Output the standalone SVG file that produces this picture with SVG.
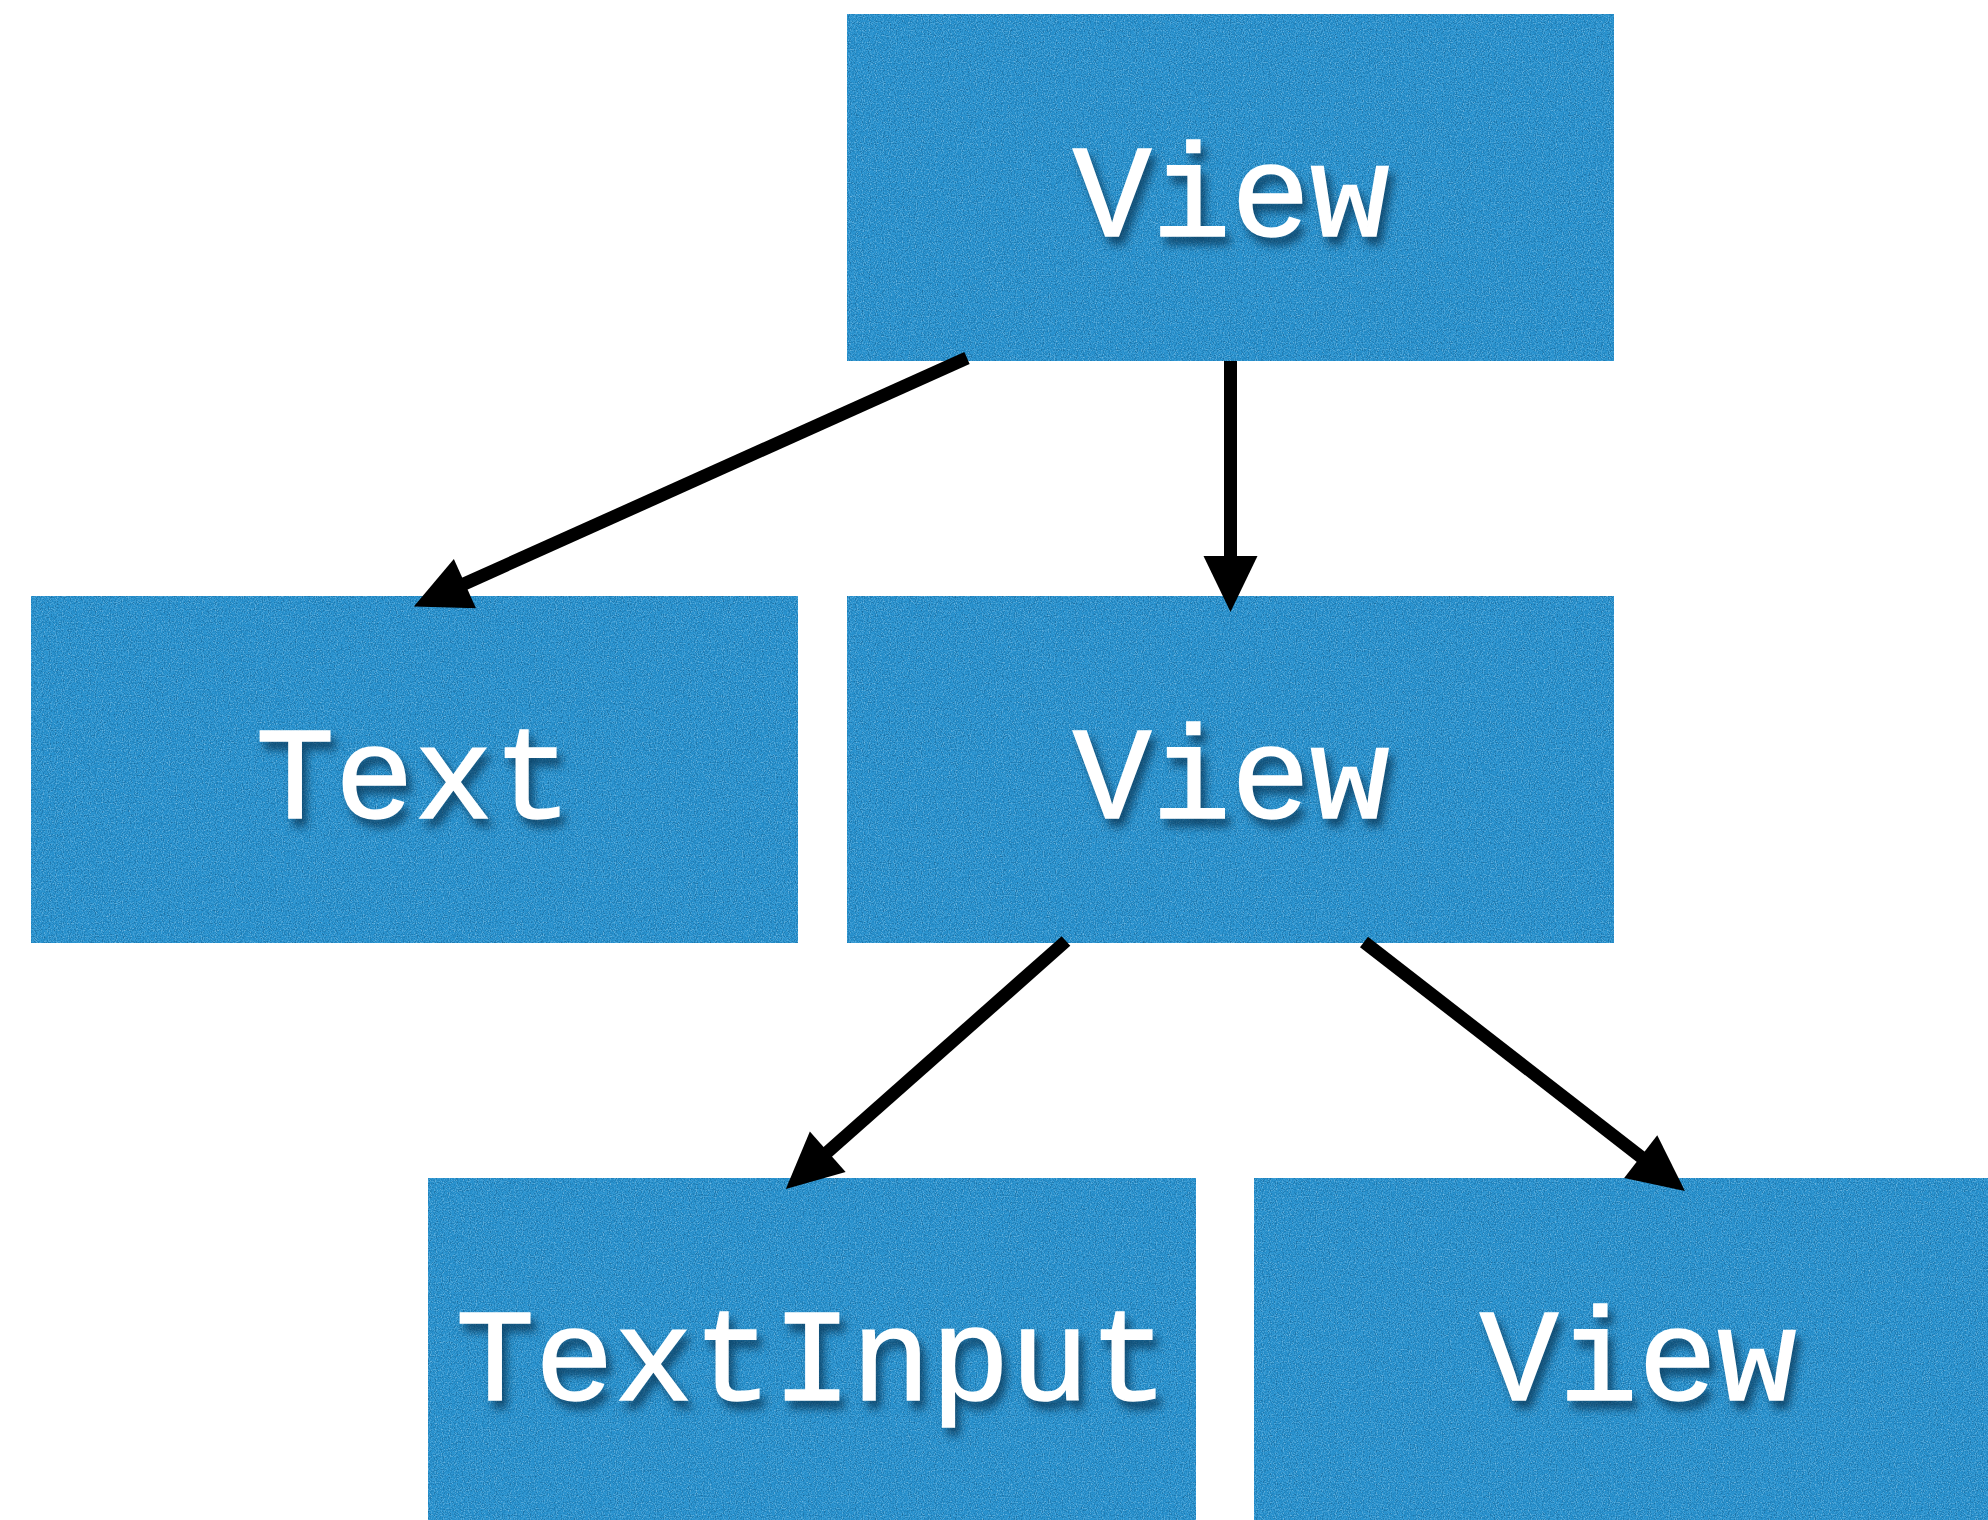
<svg xmlns="http://www.w3.org/2000/svg" width="1988" height="1520" viewBox="0 0 1988 1520">
  <defs>
    <style>
      .box { fill: #2892cf; }
      .label { font-family: "Liberation Mono", "Courier New", monospace; font-weight: normal; font-size: 132px; fill: #ffffff; stroke: #ffffff; stroke-width: 1.5; text-anchor: middle; filter: url(#textShadow); }
      .edge { stroke: #000000; stroke-width: 13; fill: none; marker-end: url(#head); }
    </style>
    <!-- soft shadow under the white labels -->
    <filter id="textShadow" x="-10%" y="-20%" width="130%" height="150%" color-interpolation-filters="sRGB">
      <feDropShadow dx="5" dy="8" stdDeviation="4" flood-color="#0a3a5a" flood-opacity="0.8"/>
    </filter>
    <!-- fine grain on the node fill: light and dark specks -->
    <filter id="grain" x="0" y="0" width="100%" height="100%" color-interpolation-filters="sRGB">
      <feTurbulence type="fractalNoise" baseFrequency="0.85" numOctaves="2" seed="3" result="noise"/>
      <feColorMatrix in="noise" type="matrix" values="0 0 0 0 1  0 0 0 0 1  0 0 0 0 1  0.9 0 0 0 -0.45" result="light"/>
      <feColorMatrix in="noise" type="matrix" values="0 0 0 0 0  0 0 0 0 0.1  0 0 0 0 0.2  -0.9 0 0 0 0.45" result="dark"/>
      <feComposite in="light" in2="SourceGraphic" operator="in" result="lightIn"/>
      <feComposite in="dark" in2="SourceGraphic" operator="in" result="darkIn"/>
      <feMerge>
        <feMergeNode in="SourceGraphic"/>
        <feMergeNode in="lightIn"/>
        <feMergeNode in="darkIn"/>
      </feMerge>
    </filter>
    <marker id="head" markerUnits="userSpaceOnUse" markerWidth="60" markerHeight="60" refX="0" refY="30" orient="auto" overflow="visible">
      <path d="M-1,3 L55,30 L-1,57 Z" fill="#000000"/>
    </marker>
  </defs>

  <rect width="1988" height="1520" fill="#ffffff"/>

  <g id="node-view-root">
    <rect class="box" x="847" y="14" width="767" height="347" filter="url(#grain)"/>
    <text class="label" x="1231" y="236">View</text>
  </g>

  <g id="node-text">
    <rect class="box" x="31" y="596" width="767" height="347" filter="url(#grain)"/>
    <text class="label" x="414" y="818">Text</text>
  </g>

  <g id="node-view-middle">
    <rect class="box" x="847" y="596" width="767" height="347" filter="url(#grain)"/>
    <text class="label" x="1231" y="818">View</text>
  </g>

  <g id="node-textinput">
    <rect class="box" x="428" y="1178" width="768" height="347" filter="url(#grain)"/>
    <text class="label" x="812" y="1400">TextInput</text>
  </g>

  <g id="node-view-leaf">
    <rect class="box" x="1254" y="1178" width="767" height="347" filter="url(#grain)"/>
    <text class="label" x="1638" y="1400">View</text>
  </g>

  <g id="connectors">
    <line class="edge" x1="967" y1="358" x2="464" y2="584"/>
    <line class="edge" x1="1230.5" y1="361" x2="1230.5" y2="557"/>
    <line class="edge" x1="1066" y1="941" x2="827" y2="1152.5"/>
    <line class="edge" x1="1364" y1="942" x2="1641.5" y2="1157.3"/>
  </g>
</svg>
